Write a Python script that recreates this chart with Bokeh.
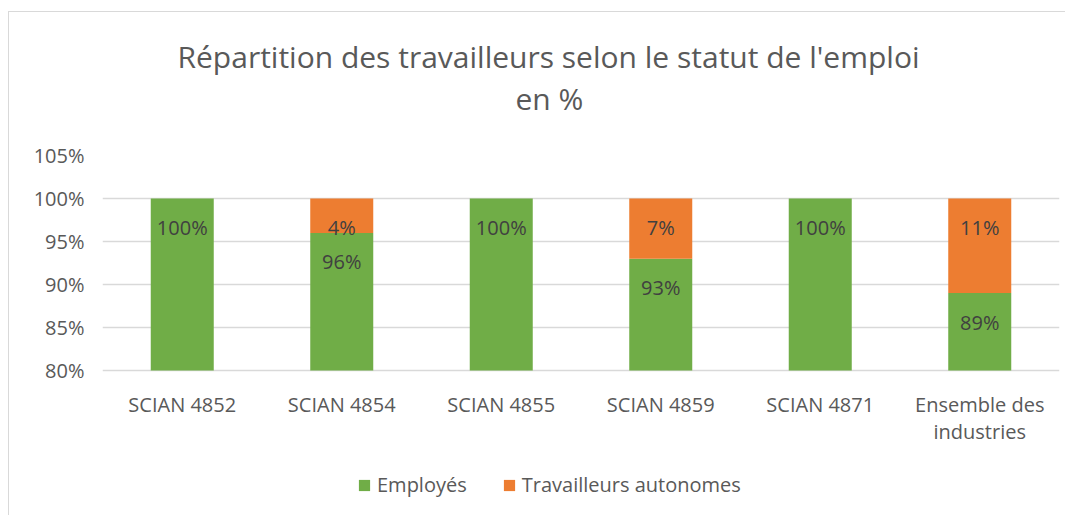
from bokeh.plotting import figure
from bokeh.models import (ColumnDataSource, FixedTicker, PrintfTickFormatter, Title,
                          Legend, LegendItem, Range1d)
from bokeh.core.properties import value
from bokeh.embed import file_html
from bokeh.resources import INLINE

categories = ["SCIAN 4852", "SCIAN 4854", "SCIAN 4855", "SCIAN 4859", "SCIAN 4871",
              "Ensemble des\nindustries"]
employes = [100, 96, 100, 93, 100, 89]
autonomes = [0, 4, 0, 7, 0, 11]
y_ticks = [80, 85, 90, 95, 100, 105]
series_names = ["Employés", "Travailleurs autonomes"]
title_lines = ["Répartition des travailleurs selon le statut de l'emploi", "en %"]

GREEN = "#70AD47"
ORANGE = "#ED7D31"
TXT = "#595959"
LBL = "#404040"
FONT = "Open Sans"

# axis span (Excel axis: 80% .. 105%); the frame also hosts category labels + legend below 80%
Y_MIN, Y_MAX = y_ticks[0], y_ticks[-1]
PLOT_PX = 215          # pixels between 80% and 105%
FRAME_PX = 360         # full frame height (includes label/legend area)
y_start = Y_MAX - (Y_MAX - Y_MIN) * FRAME_PX / PLOT_PX

source = ColumnDataSource(dict(
    cat=categories, emp=employes, aut=autonomes,
    base=[Y_MIN] * len(categories),
    top2=[e + a for e, a in zip(employes, autonomes)]))

p = figure(x_range=categories, y_range=Range1d(y_start, Y_MAX),
           frame_width=957, frame_height=FRAME_PX,
           min_border_left=93, min_border_right=6, min_border_top=143, min_border_bottom=0,
           output_backend="svg", toolbar_location=None,
           styles={"margin-left": "8px", "margin-top": "11px",
                   "border-left": "1px solid #D9D9D9", "border-top": "1px solid #D9D9D9"})

p.title.visible = False
sub = Title(text=title_lines[1], align="left", text_font=FONT, text_font_size="30px",
            text_color=TXT, text_font_style="normal", standoff=73, offset=413)
main = Title(text=title_lines[0], align="left",
             text_font=FONT, text_font_size="30px", text_color=TXT,
             text_font_style="normal", standoff=-74, offset=75)
p.add_layout(sub, "above")
p.add_layout(main, "above")

r_emp = p.vbar(x="cat", bottom="base", top="emp", width=0.395, color=GREEN,
               line_color=None, source=source)
r_aut = p.vbar(x="cat", bottom="emp", top="top2", width=0.395, color=ORANGE,
               line_color=None, source=source)

emp_labels = dict(cat=categories, y=employes, t=[f"{v}%" for v in employes])
aut_idx = [i for i, v in enumerate(autonomes) if v > 0]
aut_labels = dict(cat=[categories[i] for i in aut_idx],
                  y=[employes[i] + autonomes[i] for i in aut_idx],
                  t=[f"{autonomes[i]}%" for i in aut_idx])
for d in (emp_labels, aut_labels):
    p.text(x="cat", y="y", text="t", source=ColumnDataSource(d), y_offset=29,
           text_align="center", text_baseline="middle", text_color=LBL,
           text_font=value(FONT), text_font_size="20px")

# category labels under the 80% baseline
p.text(x="cat", y="base", text="cat", source=source, y_offset=20,
       text_align="center", text_baseline="top", text_color=TXT,
       text_font=value(FONT), text_font_size="20px", text_line_height=1.03)

p.xgrid.grid_line_color = None
p.ygrid.grid_line_color = "#D9D9D9"
p.ygrid.grid_line_width = 1.3
p.ygrid.ticker = FixedTicker(ticks=y_ticks)
p.outline_line_color = None

p.xaxis.visible = False
p.yaxis.ticker = FixedTicker(ticks=y_ticks)
p.yaxis.formatter = PrintfTickFormatter(format="%d%%")
p.yaxis.axis_line_color = None
p.yaxis.major_tick_line_color = None
p.yaxis.minor_tick_line_color = None
p.yaxis.major_tick_out = 0
p.yaxis.major_tick_in = 0
p.yaxis.major_label_text_font = FONT
p.yaxis.major_label_text_font_size = "20px"
p.yaxis.major_label_text_color = TXT
p.yaxis.major_label_standoff = 18

legend = Legend(items=[LegendItem(label=series_names[0], renderers=[r_emp]),
                       LegendItem(label=series_names[1], renderers=[r_aut])],
                orientation="horizontal", location=(255, 17),
                label_text_font=FONT, label_text_font_size="20px", label_text_color=TXT,
                glyph_width=14, glyph_height=14, label_standoff=6, spacing=35,
                border_line_color=None, background_fill_alpha=0, margin=0, padding=0)
p.add_layout(legend, "center")

open("out.html", "w").write(file_html(p, INLINE))
